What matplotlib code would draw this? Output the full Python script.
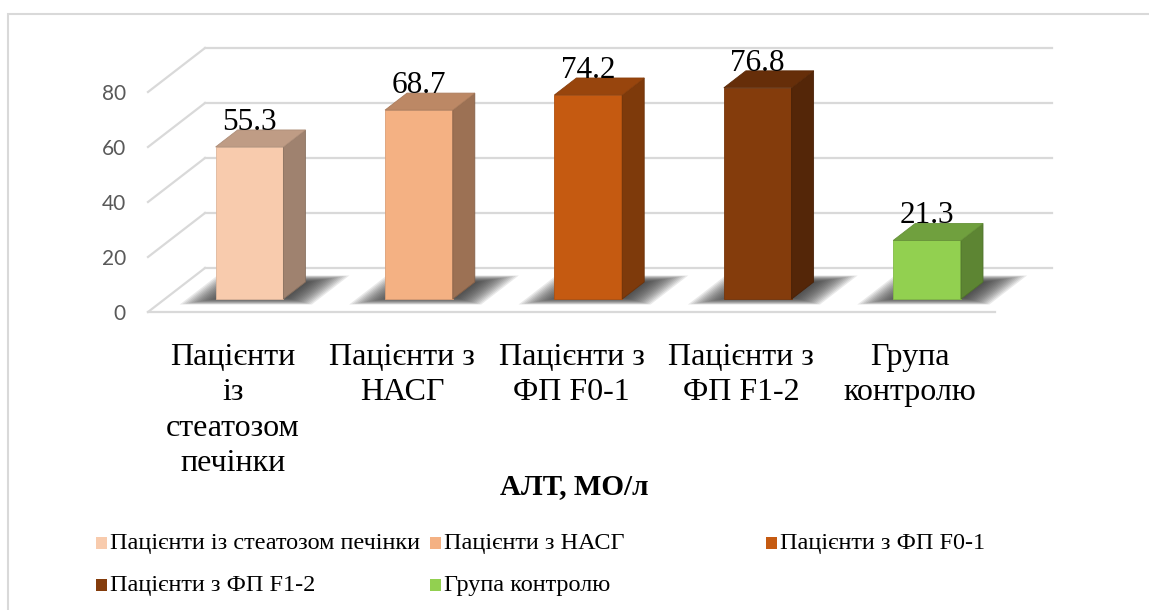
import numpy as np
import matplotlib.pyplot as plt
from matplotlib.patches import Polygon, Rectangle
from matplotlib.colors import to_rgb

# ALT levels by patient group
categories = ["Пацієнти із стеатозом печінки", "Пацієнти з НАСГ",
              "Пацієнти з ФП F0-1", "Пацієнти з ФП F1-2", "Група контролю"]
tick_labels = ["Пацієнти\nіз\nстеатозом\nпечінки", "Пацієнти з\nНАСГ",
               "Пацієнти з\nФП F0-1", "Пацієнти з\nФП F1-2", "Група\nконтролю"]
alt_values = [55.3, 68.7, 74.2, 76.8, 21.3]
colors = ["#F8CBAD", "#F4B183", "#C55A11", "#843C0C", "#92D050"]
yticks = [0, 20, 40, 60, 80]

serif = "Liberation Serif"
grid_col = "#d9d9d9"

# fake 3d: depth offset of the whole floor (in x-slot and value units)
DX, DY = 0.3365, 16.0
d_front, d_bar = 0.295, 0.386   # bar front depth and bar thickness
bw = 0.40                        # bar width in slot units


def shade(c, f):
    r, g, b = to_rgb(c)
    return (r * f, g * f, b * f)


fig = plt.figure(figsize=(11.49, 6.10), dpi=100)
W, H = 1149, 610
ax = fig.add_axes([148 / W, 1 - 312 / H, 847 / W, 220 / H])
ax.set_xlim(0, 5)
ax.set_ylim(0, 80)
for s in ax.spines.values():
    s.set_visible(False)

# chart frame
fig.patches.append(Rectangle((8 / W, -0.1), 1.2, 1 - 14 / H + 0.1, transform=fig.transFigure,
                             fill=False, edgecolor=grid_col, linewidth=1.5))

# back wall + left wall gridlines
n = len(alt_values)
for v in yticks:
    ax.plot([DX, n + DX], [v + DY, v + DY], color=grid_col, lw=1.6, clip_on=False, zorder=1)
    ax.plot([0, DX], [v, v + DY], color=grid_col, lw=1.6, clip_on=False, zorder=1)
ax.plot([0, n], [0, 0], color=grid_col, lw=1.6, clip_on=False, zorder=1)

# soft shadows on the floor (stacked translucent layers)
for i in range(n):
    xc = i + 0.52
    for k in range(16):
        t = k / 15
        hw = 0.39 - 0.2 * t
        d0, d1 = 0.17 + 0.15 * t, 0.83 - 0.15 * t
        pts = [(xc - hw + d0 * DX, d0 * DY), (xc + hw + d0 * DX, d0 * DY),
               (xc + hw + d1 * DX, d1 * DY), (xc - hw + d1 * DX, d1 * DY)]
        ax.add_patch(Polygon(pts, closed=True, facecolor="#303030", edgecolor="none",
                             alpha=0.1, zorder=2, clip_on=False))

# bars: front face with ax.bar, side and top faces as polygons
y0 = d_front * DY
xs = np.arange(n) + 0.5 + d_front * DX
ax.bar(xs, alt_values, width=bw, bottom=y0, color=colors, zorder=3,
       edgecolor=[shade(c, 0.9) for c in colors], linewidth=0.6, clip_on=False)
for x, v, c in zip(xs, alt_values, colors):
    xl, xr = x - bw / 2, x + bw / 2
    ox, oy = d_bar * DX, d_bar * DY
    side = [(xr, y0), (xr + ox, y0 + oy), (xr + ox, y0 + v + oy), (xr, y0 + v)]
    top = [(xl, y0 + v), (xr, y0 + v), (xr + ox, y0 + v + oy), (xl + ox, y0 + v + oy)]
    ax.add_patch(Polygon(side, closed=True, facecolor=shade(c, 0.64),
                         edgecolor=shade(c, 0.55), lw=0.6, zorder=3, clip_on=False))
    ax.add_patch(Polygon(top, closed=True, facecolor=shade(c, 0.77),
                         edgecolor=shade(c, 0.7), lw=0.6, zorder=3, clip_on=False))
    ax.text(x, y0 + v + oy, f"{v}", ha="center", va="baseline", fontsize=22.5,
            family=serif, zorder=4)

ax.set_yticks(yticks)
ax.tick_params(axis="y", length=0, pad=16, labelsize=15, labelcolor="#595959")
for lab in ax.get_yticklabels():
    lab.set_family("Lato")
ax.set_xticks(np.arange(n) + 0.5)
ax.set_xticklabels(tick_labels, fontsize=23, family=serif, linespacing=1.3)
ax.tick_params(axis="x", length=0, pad=22)

fig.text(574 / W, 1 - 487 / H, "АЛТ, МО/л", ha="center", va="center",
         fontsize=21, fontweight="bold", family=serif)

# legend, three entries per row
col_x = [96, 430, 766]
row_y = [543, 585]
for i, (name, c) in enumerate(zip(categories, colors)):
    cx, cy = col_x[i % 3], row_y[i // 3]
    fig.patches.append(Rectangle((cx / W, 1 - (cy + 6) / H), 11 / W, 12 / H,
                                 transform=fig.transFigure, facecolor=c, edgecolor="none"))
    fig.text((cx + 14) / W, 1 - cy / H, name, ha="left", va="center",
             fontsize=17.5, family=serif)

fig.savefig("out.png", dpi=100, facecolor="white")
